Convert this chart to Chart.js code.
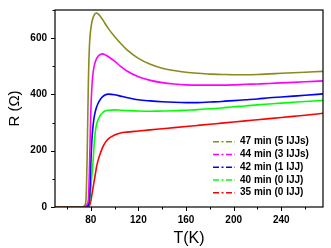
<!DOCTYPE html>
<html>
<head>
<meta charset="utf-8">
<script src="https://cdn.jsdelivr.net/npm/chart.js@4/dist/chart.umd.min.js"></script>
<style>
html,body{margin:0;padding:0;background:#fff;}
#wrap{width:331px;height:248px;position:relative;}
</style>
</head>
<body>
<div id="wrap"><canvas id="c" width="331" height="248"></canvas></div>
<script>
const temperatures = [50,60,70,73,74,75,76,77,78,79,80,81,82,83,84,85,86,88,90,92,95,100,105,110,120,130,140,150,160,170,180,190,200,210,220,230,240,250,260,275];
const r47 = [0,0,0,0,2,6,25,180,440,580,630,658,673,683,688,689,687,678,666,652,633,606,582,560,528,507,493,485,479,475,472,471,470,470,471,473,475,477,479,482];
const r44 = [0,0,0,0,0,1,4,10,25,150,330,430,478,503,518,528,535,542,544,541,534,518,500,484,463,450,442,437,434,433,433,433,434,436,437,439,441,443,445,448];
const r42 = [0,0,0,0,0,0,1,3,8,30,145,240,290,322,342,356,367,382,392,398,401,399,394,389,381,377,374,372,371,371,373,375,378,381,384,388,391,394,397,402];
const r40 = [0,0,0,0,0,0,0,2,6,20,60,115,165,230,272,295,308,325,335,341,344,345,344,343,341,340,341,342,344,346,349,352,356,359,363,366,369,372,375,379];
const r35 = [0,0,0,0,0,0,0,0,2,6,20,45,70,95,120,145,163,190,212,228,243,256,263,266,270,274,278,282,286,290,294,298,302,306,310,314,318,322,326,333];
const seriesLabels = ['47 min (5 IJJs)','44 min (3 IJJs)','42 min (1 IJJ)','40 min (0 IJJ)','35 min (0 IJJ)'];
const seriesColors = ['#8a8a1e','#ff00ff','#0000ff','#00ff00','#ff0000'];
const xTitle = 'T(K)';
const yTitle = 'R (\u03A9)';

const allR = [r47, r44, r42, r40, r35];
const datasets = allR.map((arr, i) => ({
  label: seriesLabels[i],
  data: temperatures.map((t, j) => ({x: t, y: arr[j]})),
  borderColor: seriesColors[i],
  backgroundColor: seriesColors[i],
  borderWidth: 1.6,
  pointRadius: 0,
  cubicInterpolationMode: 'monotone',
  fill: false
}));

Chart.defaults.font.family = '"Liberation Sans", Arial, sans-serif';
Chart.defaults.color = '#000';

const framePlugin = {
  id: 'frame',
  afterDraw(chart) {
    const ctx = chart.ctx;
    const a = chart.chartArea;
    const xs = chart.scales.x, ys = chart.scales.y;
    ctx.save();
    ctx.strokeStyle = '#000';
    ctx.lineWidth = 1.2;
    ctx.strokeRect(a.left, a.top, a.right - a.left, a.bottom - a.top);
    ctx.lineWidth = 1;
    ctx.beginPath();
    for (let v = 60; v <= 260; v += 20) {
      const px = Math.round(xs.getPixelForValue(v)) + 0.5;
      const len = (v % 40 === 0) ? 4 : 2.5;
      ctx.moveTo(px, a.bottom);
      ctx.lineTo(px, a.bottom + len);
    }
    for (let v = 0; v <= 700; v += 100) {
      const py = Math.round(ys.getPixelForValue(v)) + 0.5;
      const len = (v % 200 === 0) ? 4 : 2.5;
      ctx.moveTo(a.left, py);
      ctx.lineTo(a.left - len, py);
    }
    ctx.stroke();
    // legend
    const lx0 = 213, lx1 = 235, tx = 240;
    ctx.font = 'bold 10px "Liberation Sans", Arial, sans-serif';
    ctx.textBaseline = 'middle';
    ctx.textAlign = 'left';
    chart.data.datasets.forEach((ds, i) => {
      const y = 141.7 + i * 12.75;
      ctx.strokeStyle = ds.borderColor;
      ctx.lineWidth = 1.5;
      ctx.setLineDash([6, 2.5, 2, 2.5]);
      ctx.beginPath();
      ctx.moveTo(lx0, y);
      ctx.lineTo(lx1, y);
      ctx.stroke();
      ctx.setLineDash([]);
      ctx.fillStyle = '#000';
      ctx.fillText(ds.label, tx, y);
    });
    ctx.restore();
  }
};

new Chart(document.getElementById('c'), {
  type: 'line',
  data: {datasets},
  options: {
    responsive: false,
    animation: false,
    devicePixelRatio: 1,
    layout: {padding: {top: 10, right: 8, left: 0, bottom: 0}},
    plugins: {legend: {display: false}, tooltip: {enabled: false}},
    scales: {
      x: {
        type: 'linear', min: 50, max: 275,
        afterFit(s) { s.height = 41; },
        ticks: {stepSize: 20, autoSkip: false, maxRotation: 0, padding: 3,
          font: {size: 10, weight: 'bold'}, color: '#000',
          callback: v => (v % 40 === 0 && v >= 80 && v <= 240) ? String(v) : ''},
        grid: {drawOnChartArea: false, tickColor: 'rgba(0,0,0,0)', tickLength: 4},
        border: {display: false},
        title: {display: true, text: xTitle, font: {size: 16}, color: '#000', padding: 0}
      },
      y: {
        type: 'linear', min: 0, max: 700,
        afterFit(s) { s.width = 55; },
        ticks: {stepSize: 100, autoSkip: false, padding: 4,
          font: {size: 10, weight: 'bold'}, color: '#000',
          callback: v => (v % 200 === 0 && v <= 600) ? String(v) : ''},
        grid: {drawOnChartArea: false, tickColor: 'rgba(0,0,0,0)', tickLength: 4},
        border: {display: false},
        title: {display: true, text: yTitle, font: {size: 15}, color: '#000', padding: {top: 6, bottom: 6}}
      }
    }
  },
  plugins: [framePlugin]
});
</script>
</body>
</html>
